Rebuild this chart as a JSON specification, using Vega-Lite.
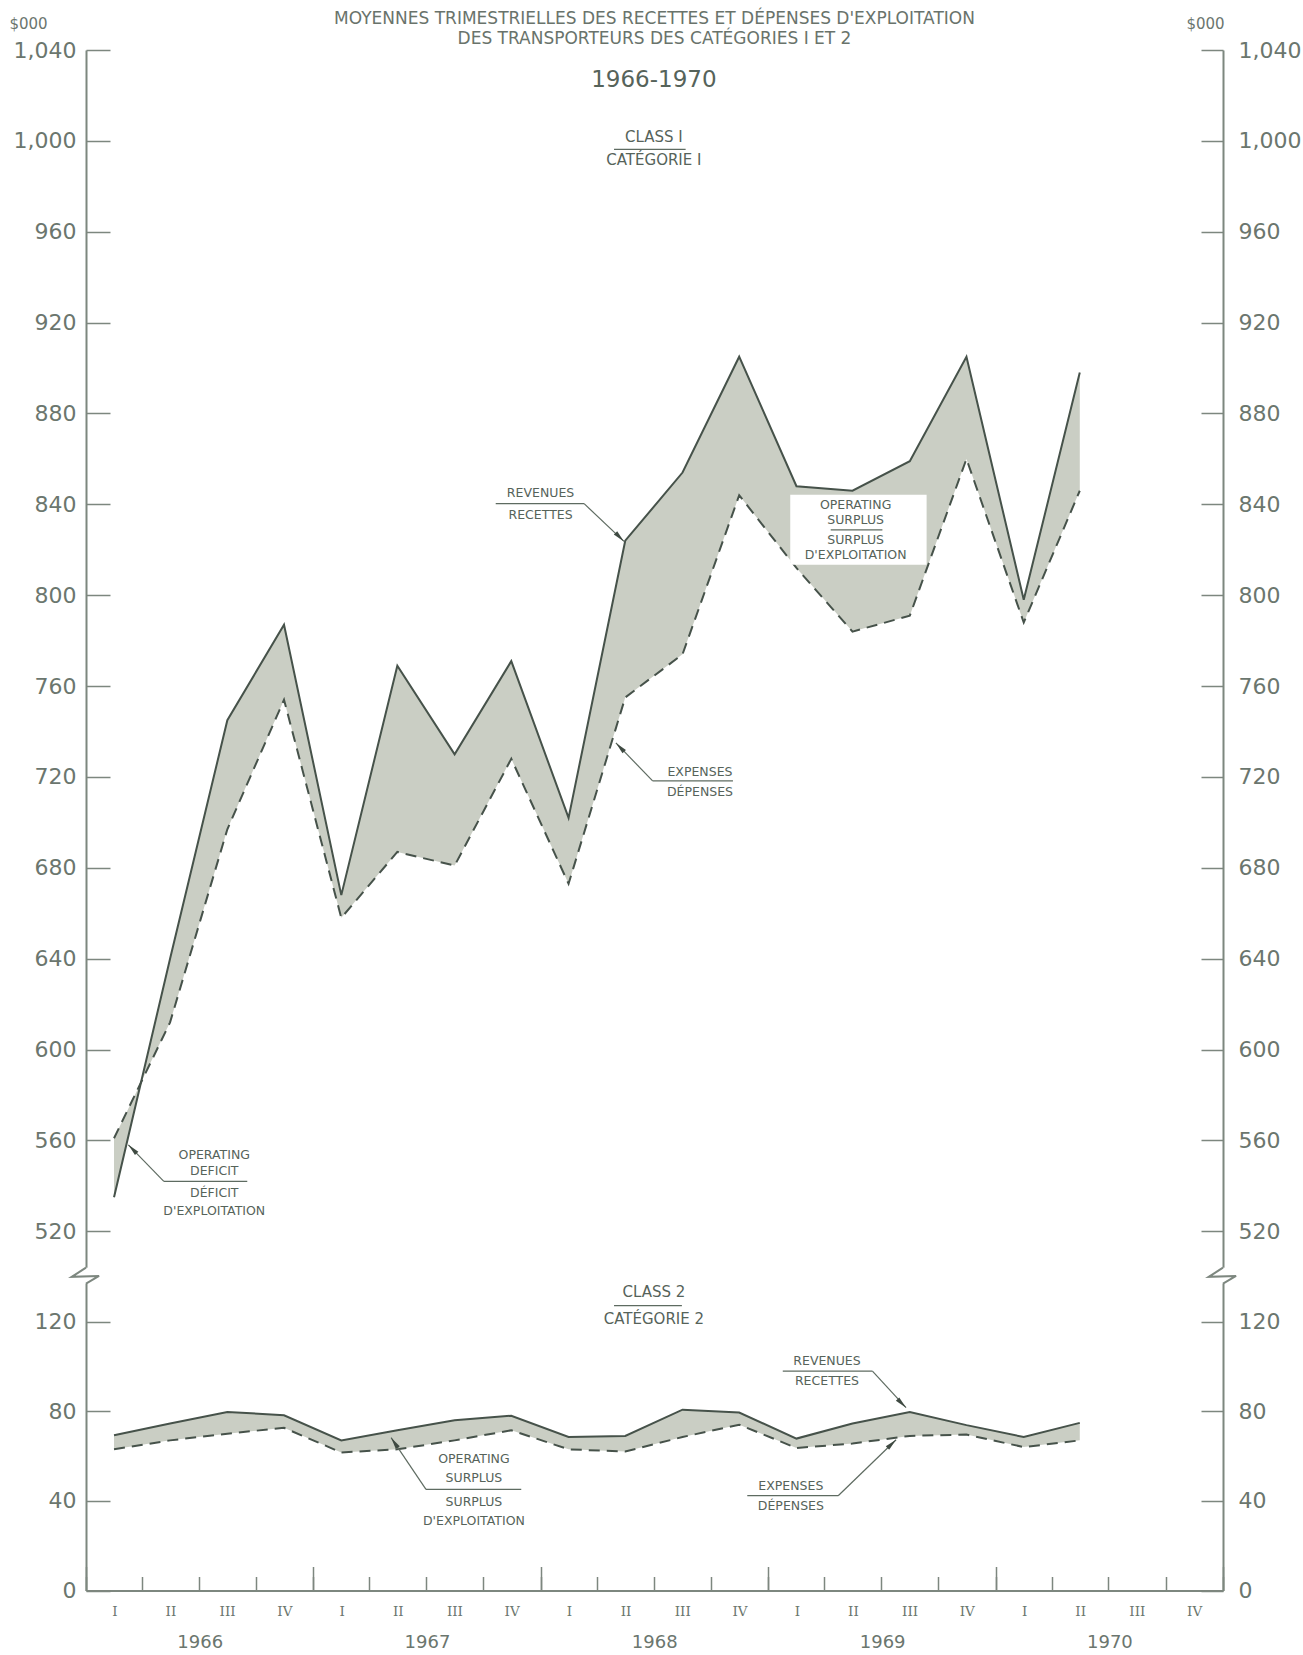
{
  "$schema": "https://vega.github.io/schema/vega-lite/v6.json",
  "width": 1137,
  "height": 1540.5,
  "autosize": "none",
  "padding": {"left": 86, "top": 50, "right": 80, "bottom": 64.5},
  "background": "#ffffff",
  "title": {
    "text": ["MOYENNES TRIMESTRIELLES DES RECETTES ET DÉPENSES D'EXPLOITATION", "DES TRANSPORTEURS DES CATÉGORIES I ET 2"],
    "font": "DejaVu Sans", "fontSize": 17, "fontWeight": "normal", "color": "#69736b",
    "lineHeight": 20, "anchor": "middle", "offset": -32
  },
  "config": {
    "view": {"stroke": null},
    "axis": {"grid": false, "domainColor": "#7d877f", "tickColor": "#7d877f", "labelColor": "#6b766e", "labelFont": "DejaVu Sans", "domainWidth": 2, "tickWidth": 1.5, "titleColor": "#6b766e", "titleFont": "DejaVu Sans"},
    "text": {"font": "DejaVu Sans"}
  },
  "datasets": {
    "series": [
      {"cls": "1", "date": "1966-02-15", "rev": 535, "exp": 561},
      {"cls": "1", "date": "1966-05-16", "rev": 640, "exp": 612},
      {"cls": "1", "date": "1966-08-16", "rev": 745, "exp": 697},
      {"cls": "1", "date": "1966-11-15", "rev": 787, "exp": 754},
      {"cls": "1", "date": "1967-02-15", "rev": 668, "exp": 658},
      {"cls": "1", "date": "1967-05-16", "rev": 769, "exp": 687},
      {"cls": "1", "date": "1967-08-16", "rev": 730, "exp": 681},
      {"cls": "1", "date": "1967-11-15", "rev": 771, "exp": 728},
      {"cls": "1", "date": "1968-02-15", "rev": 702, "exp": 673},
      {"cls": "1", "date": "1968-05-16", "rev": 824, "exp": 755},
      {"cls": "1", "date": "1968-08-16", "rev": 854, "exp": 774},
      {"cls": "1", "date": "1968-11-15", "rev": 905, "exp": 844},
      {"cls": "1", "date": "1969-02-15", "rev": 848, "exp": 812},
      {"cls": "1", "date": "1969-05-16", "rev": 846, "exp": 784},
      {"cls": "1", "date": "1969-08-16", "rev": 859, "exp": 791},
      {"cls": "1", "date": "1969-11-15", "rev": 905, "exp": 860},
      {"cls": "1", "date": "1970-02-15", "rev": 798, "exp": 788},
      {"cls": "1", "date": "1970-05-16", "rev": 898, "exp": 846},
      {"cls": "2", "date": "1966-02-15", "rev": 69.3, "exp": 63},
      {"cls": "2", "date": "1966-05-16", "rev": 74.5, "exp": 67},
      {"cls": "2", "date": "1966-08-16", "rev": 79.7, "exp": 70},
      {"cls": "2", "date": "1966-11-15", "rev": 78.2, "exp": 72.6},
      {"cls": "2", "date": "1967-02-15", "rev": 67, "exp": 61.6},
      {"cls": "2", "date": "1967-05-16", "rev": 71.5, "exp": 63},
      {"cls": "2", "date": "1967-08-16", "rev": 76, "exp": 67},
      {"cls": "2", "date": "1967-11-15", "rev": 78, "exp": 71.5},
      {"cls": "2", "date": "1968-02-15", "rev": 68.5, "exp": 63},
      {"cls": "2", "date": "1968-05-16", "rev": 69, "exp": 62},
      {"cls": "2", "date": "1968-08-16", "rev": 80.7, "exp": 68.5},
      {"cls": "2", "date": "1968-11-15", "rev": 79.4, "exp": 74},
      {"cls": "2", "date": "1969-02-15", "rev": 67.8, "exp": 63.6},
      {"cls": "2", "date": "1969-05-16", "rev": 74.5, "exp": 65.6},
      {"cls": "2", "date": "1969-08-16", "rev": 79.7, "exp": 69},
      {"cls": "2", "date": "1969-11-15", "rev": 73.8, "exp": 69.6},
      {"cls": "2", "date": "1970-02-15", "rev": 68.5, "exp": 64},
      {"cls": "2", "date": "1970-05-16", "rev": 74.8, "exp": 67}
    ],
    "notes": [
      {"kind": "range", "text": "1966-1970", "date": "1968-07-01", "v": 1027},
      {"kind": "head", "text": "CLASS I", "date": "1968-07-01", "v": 1001.7},
      {"kind": "head", "text": "CATÉGORIE I", "date": "1968-07-01", "v": 991.5},
      {"kind": "head", "text": "CLASS 2", "date": "1968-07-01", "v": 133.4},
      {"kind": "head", "text": "CATÉGORIE 2", "date": "1968-07-01", "v": 121},
      {"kind": "note", "text": "REVENUES", "date": "1968-01-01", "v": 845},
      {"kind": "note", "text": "RECETTES", "date": "1968-01-01", "v": 835.4},
      {"kind": "note", "text": "EXPENSES", "date": "1968-09-13", "v": 722.4},
      {"kind": "note", "text": "DÉPENSES", "date": "1968-09-13", "v": 713.6},
      {"kind": "note", "text": "OPERATING", "date": "1969-05-21", "v": 839.8},
      {"kind": "note", "text": "SURPLUS", "date": "1969-05-21", "v": 833.2},
      {"kind": "note", "text": "SURPLUS", "date": "1969-05-21", "v": 824.4},
      {"kind": "note", "text": "D'EXPLOITATION", "date": "1969-05-21", "v": 817.8},
      {"kind": "note", "text": "OPERATING", "date": "1966-07-26", "v": 553.7},
      {"kind": "note", "text": "DEFICIT", "date": "1966-07-26", "v": 546.4},
      {"kind": "note", "text": "DÉFICIT", "date": "1966-07-26", "v": 536.9},
      {"kind": "note", "text": "D'EXPLOITATION", "date": "1966-07-26", "v": 528.8},
      {"kind": "note", "text": "REVENUES", "date": "1969-04-05", "v": 102.5},
      {"kind": "note", "text": "RECETTES", "date": "1969-04-05", "v": 93.6},
      {"kind": "note", "text": "EXPENSES", "date": "1969-02-06", "v": 46.5},
      {"kind": "note", "text": "DÉPENSES", "date": "1969-02-06", "v": 37.6},
      {"kind": "note", "text": "OPERATING", "date": "1967-09-16", "v": 58.8},
      {"kind": "note", "text": "SURPLUS", "date": "1967-09-16", "v": 50.3},
      {"kind": "note", "text": "SURPLUS", "date": "1967-09-16", "v": 39.6},
      {"kind": "note", "text": "D'EXPLOITATION", "date": "1967-09-16", "v": 31.1}
    ],
    "leaders": [
      {"date": "1967-10-21", "v": 840.3, "date2": "1968-03-11", "v2": 840.3},
      {"date": "1968-03-11", "v": 840.3, "date2": "1968-05-14", "v2": 823.7},
      {"date": "1968-06-29", "v": 718.3, "date2": "1968-11-05", "v2": 718.3},
      {"date": "1968-06-29", "v": 718.3, "date2": "1968-05-01", "v2": 735},
      {"date": "1969-04-11", "v": 828.8, "date2": "1969-07-03", "v2": 828.8},
      {"date": "1966-05-06", "v": 542, "date2": "1966-09-17", "v2": 542},
      {"date": "1966-05-06", "v": 542, "date2": "1966-03-10", "v2": 558.1},
      {"date": "1969-01-24", "v": 97.9, "date2": "1969-06-17", "v2": 97.9},
      {"date": "1969-06-17", "v": 97.9, "date2": "1969-08-10", "v2": 81.6},
      {"date": "1968-11-28", "v": 42.3, "date2": "1969-04-23", "v2": 42.3},
      {"date": "1969-04-23", "v": 42.3, "date2": "1969-07-25", "v2": 67.3},
      {"date": "1967-07-01", "v": 45.1, "date2": "1967-12-01", "v2": 45.1},
      {"date": "1967-07-01", "v": 45.1, "date2": "1967-05-06", "v2": 68.2},
      {"date": "1968-04-28", "v": 996.3, "date2": "1968-08-21", "v2": 996.3},
      {"date": "1968-04-28", "v": 127.1, "date2": "1968-08-15", "v2": 127.1}
    ],
    "arrows": [
      {"note": "revenues-1", "date": "1968-05-14", "v": 823.7},
      {"note": "revenues-2", "date": "1969-08-10", "v": 81.6},
      {"note": "expenses-1", "date": "1968-05-01", "v": 735},
      {"note": "deficit-1", "date": "1966-03-10", "v": 558.1},
      {"note": "expenses-2", "date": "1969-07-25", "v": 67.3},
      {"note": "surplus-2", "date": "1967-05-06", "v": 68.2}
    ],
    "box": [
      {"date": "1969-02-05", "v": 844.2, "date2": "1969-09-12", "v2": 813.4}
    ],
    "gap": [
      {"date": "1966-01-01", "v": 504, "v2": 137},
      {"date": "1971-01-01", "v": 504, "v2": 137}
    ],
    "zigzag": [
      {"side": "L", "ord": 1, "date": "1966-01-01", "v": 504},
      {"side": "L", "ord": 2, "date": "1965-12-09", "v": 500},
      {"side": "L", "ord": 3, "date": "1966-01-22", "v": 500.4},
      {"side": "L", "ord": 4, "date": "1966-01-01", "v": 137},
      {"side": "R", "ord": 1, "date": "1971-01-01", "v": 504},
      {"side": "R", "ord": 2, "date": "1970-12-09", "v": 500},
      {"side": "R", "ord": 3, "date": "1971-01-22", "v": 500.4},
      {"side": "R", "ord": 4, "date": "1971-01-01", "v": 137}
    ]
  },
  "layer": [
    {
      "data": {"name": "series"},
      "mark": {"type": "area", "color": "#cacec4", "opacity": 1},
      "encoding": {
        "x": {
          "field": "date", "type": "temporal",
          "scale": {"type": "utc", "domain": [{"year": 1966, "month": 1, "date": 1, "utc": true}, {"year": 1971, "month": 1, "date": 1, "utc": true}]},
          "axis": {
            "orient": "bottom", "title": null,
            "tickCount": {"interval": "month", "step": 3},
            "tickSize": -14, "labelPadding": 35, "labelOffset": 28.4,
            "labelBaseline": "middle", "labelFont": "DejaVu Serif", "labelFontSize": 13.5,
            "labelOverlap": false, "labelFlush": false, "labelBound": false,
            "labelExpr": "utcyear(datum.value) > 1970 ? '' : ['I','II','III','IV'][floor(utcmonth(datum.value)/3)]"
          }
        },
        "y": {
          "field": "rev", "type": "quantitative",
          "scale": {"domain": [0, 140, 500, 1040], "range": [1540.5, 1226.8, 1226.8, 0], "nice": false, "zero": false},
          "axis": {
            "orient": "left",
            "values": [0, 40, 80, 120, 520, 560, 600, 640, 680, 720, 760, 800, 840, 880, 920, 960, 1000, 1040],
            "format": ",d", "tickSize": -24, "labelPadding": 34, "labelFontSize": 22,
            "labelOverlap": false, "labelBound": false, "labelFlush": false,
            "title": "$000", "titleAngle": 0, "titleX": -58, "titleY": -27, "titleAlign": "center",
            "titleBaseline": "middle", "titleFontSize": 15, "titleFontWeight": "normal"
          }
        },
        "y2": {"field": "exp"},
        "detail": {"field": "cls"}
      }
    },
    {
      "data": {"name": "series"},
      "mark": {"type": "line", "color": "#46524a", "strokeWidth": 2},
      "encoding": {
        "x": {
          "field": "date", "type": "temporal",
          "axis": {
            "orient": "bottom", "title": null, "domain": false,
            "tickCount": {"interval": "year", "step": 1},
            "tickSize": -24, "labelPadding": 76, "labelOffset": 113.7,
            "labelBaseline": "middle", "labelFontSize": 18,
            "labelOverlap": false, "labelFlush": false, "labelBound": false,
            "labelExpr": "utcyear(datum.value) > 1970 ? '' : '' + utcyear(datum.value)"
          }
        },
        "y": {
          "field": "rev", "type": "quantitative",
          "axis": {
            "orient": "right",
            "values": [0, 40, 80, 120, 520, 560, 600, 640, 680, 720, 760, 800, 840, 880, 920, 960, 1000, 1040],
            "format": ",d", "tickSize": -22, "labelPadding": 37, "labelFontSize": 22,
            "labelOverlap": false, "labelBound": false, "labelFlush": false,
            "title": "$000", "titleAngle": 0, "titleX": -18, "titleY": -27, "titleAlign": "center",
            "titleBaseline": "middle", "titleFontSize": 15, "titleFontWeight": "normal"
          }
        },
        "detail": {"field": "cls"}
      }
    },
    {
      "data": {"name": "series"},
      "mark": {"type": "line", "color": "#46524a", "strokeWidth": 2, "strokeDash": [11, 7]},
      "encoding": {
        "x": {"field": "date", "type": "temporal", "axis": null},
        "y": {"field": "exp", "type": "quantitative", "axis": null},
        "detail": {"field": "cls"}
      }
    },
    {
      "data": {"name": "box"},
      "mark": {"type": "rect", "color": "#ffffff"},
      "encoding": {
        "x": {"field": "date", "type": "temporal", "axis": null},
        "x2": {"field": "date2"},
        "y": {"field": "v", "type": "quantitative", "axis": null},
        "y2": {"field": "v2"}
      }
    },
    {
      "data": {"name": "leaders"},
      "mark": {"type": "rule", "color": "#5e6b61", "strokeWidth": 1.2},
      "encoding": {
        "x": {"field": "date", "type": "temporal", "axis": null},
        "x2": {"field": "date2"},
        "y": {"field": "v", "type": "quantitative", "axis": null},
        "y2": {"field": "v2"}
      }
    },
    {
      "data": {"name": "arrows"},
      "transform": [{"filter": "datum.note == 'revenues-1' || datum.note == 'revenues-2'"}],
      "mark": {"type": "point", "shape": "M0,0L-0.4,2L0.4,2Z", "size": 144, "filled": true, "color": "#3f4a42", "opacity": 1, "angle": 135},
      "encoding": {
        "x": {"field": "date", "type": "temporal", "axis": null},
        "y": {"field": "v", "type": "quantitative", "axis": null}
      }
    },
    {
      "data": {"name": "arrows"},
      "transform": [{"filter": "datum.note == 'expenses-1' || datum.note == 'deficit-1'"}],
      "mark": {"type": "point", "shape": "M0,0L-0.4,2L0.4,2Z", "size": 144, "filled": true, "color": "#3f4a42", "opacity": 1, "angle": -44},
      "encoding": {
        "x": {"field": "date", "type": "temporal", "axis": null},
        "y": {"field": "v", "type": "quantitative", "axis": null}
      }
    },
    {
      "data": {"name": "arrows"},
      "transform": [{"filter": "datum.note == 'expenses-2'"}],
      "mark": {"type": "point", "shape": "M0,0L-0.4,2L0.4,2Z", "size": 144, "filled": true, "color": "#3f4a42", "opacity": 1, "angle": 46},
      "encoding": {
        "x": {"field": "date", "type": "temporal", "axis": null},
        "y": {"field": "v", "type": "quantitative", "axis": null}
      }
    },
    {
      "data": {"name": "arrows"},
      "transform": [{"filter": "datum.note == 'surplus-2'"}],
      "mark": {"type": "point", "shape": "M0,0L-0.4,2L0.4,2Z", "size": 144, "filled": true, "color": "#3f4a42", "opacity": 1, "angle": -34},
      "encoding": {
        "x": {"field": "date", "type": "temporal", "axis": null},
        "y": {"field": "v", "type": "quantitative", "axis": null}
      }
    },
    {
      "data": {"name": "notes"},
      "transform": [{"filter": "datum.kind == 'note'"}],
      "mark": {"type": "text", "fontSize": 12.5, "color": "#56635a", "align": "center", "baseline": "middle"},
      "encoding": {
        "x": {"field": "date", "type": "temporal", "axis": null},
        "y": {"field": "v", "type": "quantitative", "axis": null},
        "text": {"field": "text"}
      }
    },
    {
      "data": {"name": "notes"},
      "transform": [{"filter": "datum.kind == 'head'"}],
      "mark": {"type": "text", "fontSize": 15, "color": "#56635a", "align": "center", "baseline": "middle"},
      "encoding": {
        "x": {"field": "date", "type": "temporal", "axis": null},
        "y": {"field": "v", "type": "quantitative", "axis": null},
        "text": {"field": "text"}
      }
    },
    {
      "data": {"name": "notes"},
      "transform": [{"filter": "datum.kind == 'range'"}],
      "mark": {"type": "text", "fontSize": 23, "color": "#56635a", "align": "center", "baseline": "middle"},
      "encoding": {
        "x": {"field": "date", "type": "temporal", "axis": null},
        "y": {"field": "v", "type": "quantitative", "axis": null},
        "text": {"field": "text"}
      }
    },
    {
      "data": {"name": "gap"},
      "mark": {"type": "rule", "color": "#ffffff", "strokeWidth": 5},
      "encoding": {
        "x": {"field": "date", "type": "temporal", "axis": null},
        "y": {"field": "v", "type": "quantitative", "axis": null},
        "y2": {"field": "v2"}
      }
    },
    {
      "data": {"name": "zigzag"},
      "mark": {"type": "line", "color": "#7d877f", "strokeWidth": 2, "clip": false},
      "encoding": {
        "x": {"field": "date", "type": "temporal", "axis": null},
        "y": {"field": "v", "type": "quantitative", "axis": null},
        "detail": {"field": "side"},
        "order": {"field": "ord"}
      }
    }
  ],
  "resolve": {"axis": {"x": "independent", "y": "independent"}}
}
